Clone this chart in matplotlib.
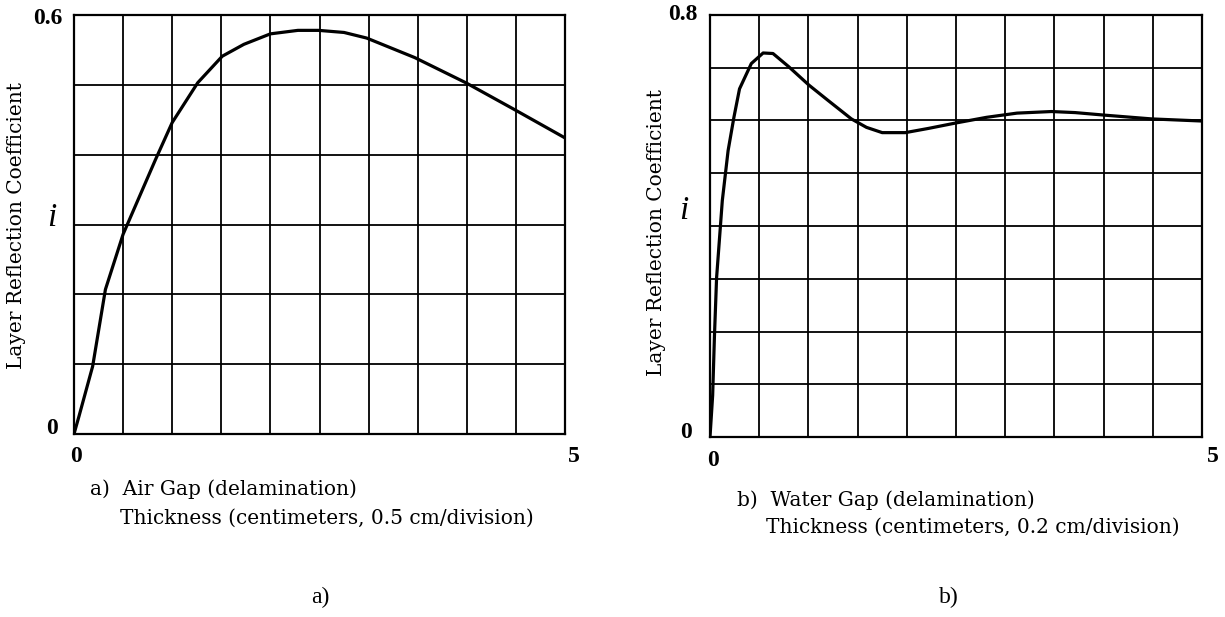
import numpy as np
import matplotlib
matplotlib.use("Agg")
import matplotlib.pyplot as plt

# =========================
# data
# =========================

# a) air gap: thickness 0..5 divisions (0.5 cm/div), reflection 0..0.6
air_x = [0.0, 0.05, 0.19, 0.32, 0.50, 0.58, 0.83, 1.00, 1.26, 1.51, 1.73,
         2.00, 2.28, 2.49, 2.75, 2.98, 3.47, 3.99, 4.48, 5.00]
air_y = [0.0, 0.025, 0.097, 0.207, 0.286, 0.312, 0.393, 0.446, 0.503, 0.541,
         0.558, 0.573, 0.578, 0.578, 0.575, 0.567, 0.539, 0.503, 0.465, 0.424]

# b) water gap: thickness 0..5 (0.2 cm/div), reflection 0..0.8
water_x = [0.0, 0.027, 0.045, 0.067, 0.10, 0.125, 0.184, 0.243, 0.30, 0.42,
           0.54, 0.64, 0.80, 1.006, 1.20, 1.437, 1.59, 1.75, 1.985, 2.22,
           2.49, 2.81, 3.12, 3.47, 3.71, 4.02, 4.49, 5.00]
water_y = [0.0, 0.079, 0.19, 0.302, 0.385, 0.448, 0.543, 0.606, 0.660, 0.708,
           0.728, 0.727, 0.702, 0.667, 0.638, 0.603, 0.587, 0.577, 0.577,
           0.585, 0.595, 0.606, 0.614, 0.617, 0.615, 0.610, 0.603, 0.599]

air_ymax = 0.6
water_ymax = 0.8
air_rows = 6
water_rows = 8
cols = 10

ylabel = "Layer Reflection Coefficient"
air_caption = ["a)  Air Gap (delamination)",
               "Thickness (centimeters, 0.5 cm/division)"]
water_caption = ["b)  Water Gap (delamination)",
                 "Thickness (centimeters, 0.2 cm/division)"]

SERIF = ["Liberation Serif", "DejaVu Serif"]
SLAB = ["DejaVu Serif"]
W, H = 1225, 617


def px(x, y):
    # pixel position -> figure fraction
    return x / W, 1 - y / H


def grid_axes(fig, rect, ymax, rows):
    ax = fig.add_axes(rect)
    ax.set_xlim(0, 5)
    ax.set_ylim(0, ymax)
    ax.set_xticks(np.linspace(0, 5, cols + 1))
    ax.set_yticks(np.linspace(0, ymax, rows + 1))
    ax.tick_params(length=0, labelbottom=False, labelleft=False)
    ax.grid(True, color="black", linewidth=1.3)
    for s in ax.spines.values():
        s.set_linewidth(1.6)
        s.set_color("black")
    ax.set_axisbelow(True)
    return ax


fig = plt.figure(figsize=(W / 100, H / 100), dpi=100)

ax1 = grid_axes(fig, [74 / W, 1 - 434 / H, 491 / W, 419 / H], air_ymax, air_rows)
ax1.plot(air_x, air_y, color="black", linewidth=2.3, solid_capstyle="round")

ax2 = grid_axes(fig, [710 / W, 1 - 437 / H, 492 / W, 422 / H], water_ymax, water_rows)
ax2.plot(water_x, water_y, color="black", linewidth=2.3, solid_capstyle="round")

tick_kw = dict(family=SERIF, fontsize=17, fontweight="bold", va="center")
text_kw = dict(family=SLAB, fontsize=14.5)

# left panel labels
fig.text(*px(63, 18), f"{air_ymax:g}", ha="right", **tick_kw)
fig.text(*px(52, 428), "0", ha="center", **tick_kw)
fig.text(*px(76, 457), "0", ha="center", **tick_kw)
fig.text(*px(574, 457), "5", ha="center", **tick_kw)
fig.text(*px(17, 226), ylabel, rotation=90, ha="center", va="center", **text_kw)
fig.text(*px(52, 218), "i", family=SERIF, fontsize=24, style="italic",
         ha="center", va="center")
fig.text(*px(90, 489), air_caption[0], ha="left", va="center", **text_kw)
fig.text(*px(120, 518), air_caption[1], ha="left", va="center", **text_kw)
fig.text(*px(320, 597), "a)", family=SERIF, fontsize=17, ha="center", va="center")

# right panel labels
fig.text(*px(698, 15), f"{water_ymax:g}", ha="right", **tick_kw)
fig.text(*px(686, 432), "0", ha="center", **tick_kw)
fig.text(*px(713, 460), "0", ha="center", **tick_kw)
fig.text(*px(1213, 457), "5", ha="center", **tick_kw)
fig.text(*px(656, 232), ylabel, rotation=90, ha="center", va="center", **text_kw)
fig.text(*px(684, 211), "i", family=SERIF, fontsize=24, style="italic",
         ha="center", va="center")
fig.text(*px(737, 500), water_caption[0], ha="left", va="center", **text_kw)
fig.text(*px(766, 527), water_caption[1], ha="left", va="center", **text_kw)
fig.text(*px(949, 597), "b)", family=SERIF, fontsize=17, ha="center", va="center")

fig.savefig("out.png", dpi=100, facecolor="white")
plt.close(fig)
